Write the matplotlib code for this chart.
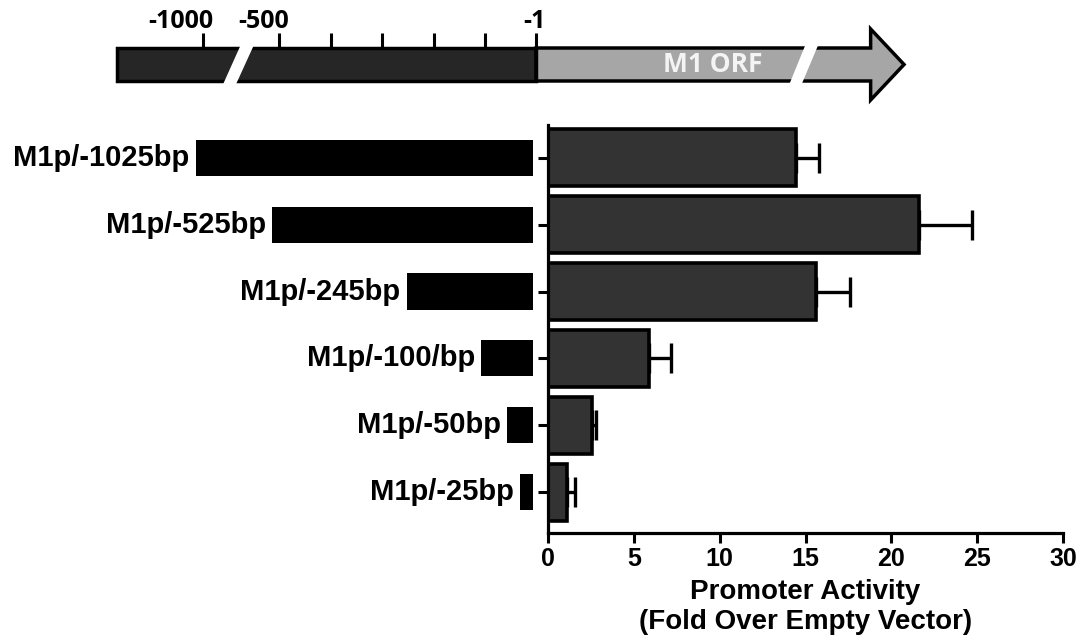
import numpy as np
import matplotlib
matplotlib.use("Agg")
import matplotlib.pyplot as plt
from matplotlib.patches import Rectangle, Polygon
from matplotlib import transforms

# data
constructs = ["M1p/-1025bp", "M1p/-525bp", "M1p/-245bp", "M1p/-100/bp", "M1p/-50bp", "M1p/-25bp"]
construct_bp = [1025, 525, 245, 100, 50, 25]
activity = [14.45, 21.6, 15.6, 5.9, 2.55, 1.1]
activity_err = [1.35, 3.1, 2.0, 1.25, 0.25, 0.5]
x_ticks = [0, 5, 10, 15, 20, 25, 30]

map_ticks = [-1000, -500, -400, -300, -200, -100, -1]
map_labels = {-1000: "-1000", -500: "-500", -1: "-1"}
map_start = -1570
orf_shaft = 650
orf_tip = 715

# broken bp axis: beyond -500 the scale is squeezed
SQ = 0.296


def fwd(x):
    x = np.asarray(x, dtype=float)
    return np.where(x >= -500, x, -500 + (x + 500) * SQ)


def inv(x):
    x = np.asarray(x, dtype=float)
    return np.where(x >= -500, x, -500 + (x + 500) / SQ)


W, H = 1079, 640
fig = plt.figure(figsize=(W / 100, H / 100), dpi=100)

BOLD = dict(family="Liberation Sans", weight="bold")
MAPFONT = dict(family="Open Sans", weight="bold")

# ---- top gene map ----
ax_map = fig.add_axes([96.9 / W, 1 - 110 / H, 820 / W, 110 / H])
ax_map.set_xscale("function", functions=(fwd, inv))
ax_map.set_xlim(-1700, 740)
ax_map.set_ylim(110, 0)
ax_map.axis("off")

bar_top, bar_bot, head_top, head_bot = 48, 81, 29, 100
mid = (bar_top + bar_bot) / 2

ax_map.add_patch(Rectangle((map_start, bar_top), -1 - map_start, bar_bot - bar_top,
                           facecolor="#262626", edgecolor="black", lw=2.5, zorder=2))
arrow = [(-1, bar_top), (orf_shaft, bar_top), (orf_shaft, head_top), (orf_tip, mid),
         (orf_shaft, head_bot), (orf_shaft, bar_bot), (-1, bar_bot)]
ax_map.add_patch(Polygon(arrow, closed=True, facecolor="#a6a6a6", edgecolor="black",
                         lw=2.5, joinstyle="miter", zorder=2))
ax_map.vlines([-1], bar_top, bar_bot, color="black", lw=2.5, zorder=3)

# break slashes
ax_map.add_patch(Polygon([(-870, 84), (-785, 84), (-668, 45), (-755, 45)],
                         closed=True, facecolor="white", lw=0, zorder=4))
ax_map.add_patch(Polygon([(492, 84), (516, 84), (548, 45), (523, 45)],
                         closed=True, facecolor="white", lw=0, zorder=4))

ax_map.vlines(map_ticks, 33, bar_top, color="black", lw=2.2, zorder=3)
off = transforms.offset_copy(ax_map.transData, fig=fig, x=10, y=0, units="dots")
for t, lab in map_labels.items():
    ax_map.text(t, 28, lab, transform=off, ha="right", va="baseline",
                fontsize=18, color="black", **MAPFONT)
ax_map.text(342, mid, "M1 ORF", ha="center", va="center", fontsize=19,
            color="#f4f4f4", zorder=5, **MAPFONT)

# ---- constructs ----
y = np.arange(len(constructs))
ylim = (5.61, -0.49)
ax_c = fig.add_axes([92.9 / W, 1 - 533 / H, 439.6 / W, 408 / H])
ax_c.set_xscale("function", functions=(fwd, inv))
ax_c.set_xlim(-1700, 0)
ax_c.set_ylim(*ylim)
ax_c.axis("off")
neg_bp = [-b for b in construct_bp]
ax_c.barh(y, construct_bp, left=neg_bp, height=0.54, color="black")
off_c = transforms.offset_copy(ax_c.transData, fig=fig, x=-6, y=0, units="dots")
for yi, b, name in zip(y, neg_bp, constructs):
    ax_c.text(b, yi, name, transform=off_c, ha="right", va="center", fontsize=21, **BOLD)

# ---- activity bars ----
ax = fig.add_axes([548 / W, 1 - 533 / H, 515 / W, 408 / H])
ax.barh(y, activity, height=0.85, color="#333333", edgecolor="black", lw=2.6, zorder=2)
ax.errorbar(activity, y, xerr=[np.zeros(len(activity)), activity_err], fmt="none",
            ecolor="black", elinewidth=2.4, capsize=10.8, capthick=2.4, zorder=1)
ax.set_xlim(0, 30)
ax.set_ylim(*ylim)
ax.set_xticks(x_ticks)
ax.set_xticklabels([str(v) for v in x_ticks], fontsize=18, **BOLD)
ax.set_yticks(y)
ax.set_yticklabels([])
for s in ["top", "right"]:
    ax.spines[s].set_visible(False)
for s in ["left", "bottom"]:
    ax.spines[s].set_linewidth(2.3)
ax.tick_params(axis="both", length=7, width=2.2, direction="out", pad=3)
ax.set_xlabel("Promoter Activity\n(Fold Over Empty Vector)", fontsize=20,
              labelpad=6, linespacing=1.2, **BOLD)

fig.savefig("out.png", dpi=100)
